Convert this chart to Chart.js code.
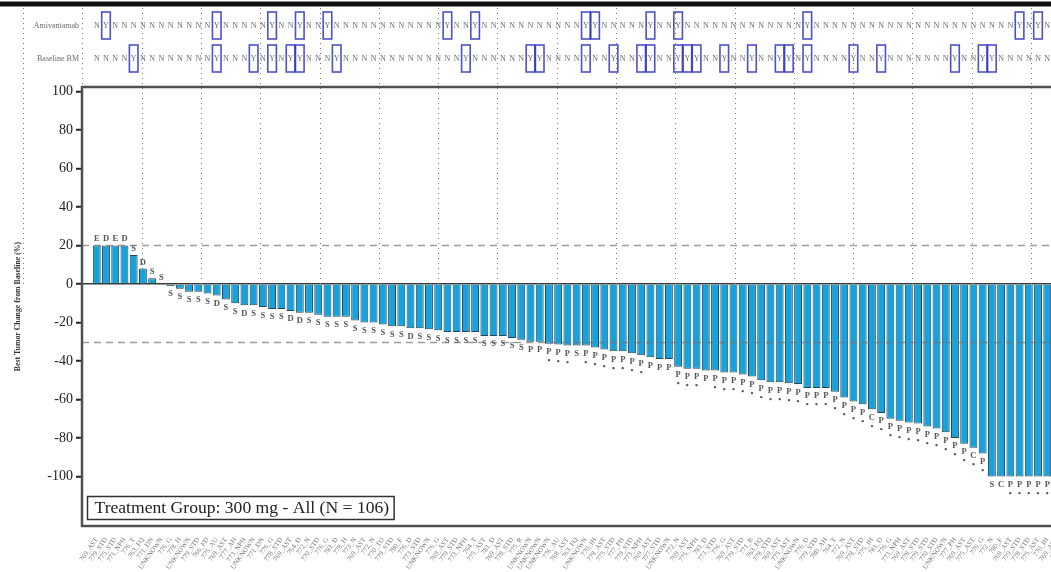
<!DOCTYPE html>
<html lang="en">
<head>
<meta charset="UTF-8">
<title>Best Tumor Change from Baseline - 300 mg</title>
<script src="https://cdn.jsdelivr.net/npm/chart.js"></script>
<style>
  body { margin: 0; overflow: hidden; background: #fff; }
  #wrap { position: relative; width: 1120px; height: 572px; }
</style>
</head>
<body>

<div id="wrap"><canvas id="waterfall"></canvas></div>

<script>
  // one entry per patient, sorted by best change
  const patientIds = [
    '769_AST', '779_STD', '775_STD', '771_NPH', '776_T', '763_FQ', '771_DN', 'UNKNOWN',
    '776_G', '778_H', 'UNKNOWN', '779_STD', '766_FD', '775_AU', '769_AST', '777_AH',
    '773_NPH', 'UNKNOWN', '771_DN', '776_G', '778_STD', '769_AST', '764_D', '772_N',
    '770_STD', '776_G', '781_D', '778_H', '773_N', '769_AST', '772_N', '770_TO',
    '779_STD', '780_F', '776_D', '773_STD', 'UNKNOWN', '776_G', '769_AST', '779_STD',
    '773_NPH', '764_T', '775_AST', '781_D', '769_AST', '778_STD', '775_R', 'UNKNOWN',
    'UNKNOWN', 'UNKNOWN', '776_AU', '768_AST', '763_FQ', 'UNKNOWN', '770_IH', '778_AST',
    '775_STD', '777_PH', '779_STD', '773_NPH', '769_AST', '777_STD', 'UNKNOWN', '772_N',
    '769_AST', '775_NPH', '781_D', '773_STD', '776_G', '769_AST', '779_STD', '771_R',
    '763_FQ', '778_STD', '769_AST', '775_AST', 'UNKNOWN', '776_D', '779_STD', '780_AH',
    '764_T', '772_N', '769_AST', '778_STD', '775_IH', '781_D', '776_G', '773_NPH',
    '769_AST', '778_STD', '779_STD', '770_STD', 'UNKNOWN', '777_PH', '769_AST', '775_AST',
    '776_G', '772_N', '780_F', '769_AST', '779_STD', '778_STD', '775_AST', '770_IH',
    '769_AST', '771_DN'
  ];

  const bestChange = [
    20, 20, 20, 20, 15, 8, 3, 0,
    -1, -2.5, -4, -4, -5, -6, -8, -10,
    -11, -11, -12, -13, -13, -14, -15, -15,
    -16, -17, -17, -17, -19, -20, -20, -21,
    -22, -22, -23, -23, -23.5, -24, -25, -25,
    -25, -25, -27, -27, -27, -28, -29, -30,
    -30, -31, -31.5, -32, -32, -32, -33, -34,
    -35, -35, -36, -37, -38, -39, -39, -43,
    -44, -44, -45, -45, -46, -46, -47, -48,
    -50, -51, -51, -51.5, -52, -54, -54, -54,
    -56, -59, -61, -62.5, -65, -67, -70, -71,
    -72, -72.5, -74, -75, -77, -80, -83, -85,
    -88, -100, -100, -100, -100, -100, -100, -100,
    -100, -100
  ];

  const bestResponse = [
    'E', 'D', 'E', 'D', 'S', 'D', 'S', 'S',
    'S', 'S', 'S', 'S', 'S', 'D', 'S', 'S',
    'D', 'S', 'S', 'S', 'S', 'D', 'D', 'S',
    'S', 'S', 'S', 'S', 'S', 'S', 'S', 'S',
    'S', 'S', 'D', 'S', 'S', 'S', 'S', 'S',
    'S', 'S', 'S', 'S', 'S', 'S', 'S', 'P',
    'P', 'P', 'P', 'P', 'S', 'P', 'P', 'P',
    'P', 'P', 'P', 'P', 'P', 'P', 'P', 'P',
    'P', 'P', 'P', 'P', 'P', 'P', 'P', 'P',
    'P', 'P', 'P', 'P', 'P', 'P', 'P', 'P',
    'P', 'P', 'P', 'P', 'C', 'P', 'P', 'P',
    'P', 'P', 'P', 'P', 'P', 'P', 'P', 'C',
    'P', 'S', 'C', 'P', 'P', 'P', 'P', 'P',
    'P', 'P'
  ];

  // patients whose response was confirmed (marked under the letter)
  const confirmed = [
    49, 50, 51, 53, 54, 55, 56, 57, 58, 59, 63, 64, 65,
    67, 68, 69, 70, 71, 72, 73, 74, 75, 76, 77, 78, 79, 80, 81,
    82, 83, 84, 85, 86, 87, 88, 89, 90, 91, 92, 93, 94, 95, 96,
    99, 100, 101, 102, 103, 104, 105
  ];

  // patients flagged "Y" in the two header rows
  const amivantamabY = [1, 13, 19, 22, 25, 38, 41, 53, 54, 60, 63, 77, 100, 102];
  const baselineBmY = [4, 13, 17, 19, 21, 22, 26, 40, 47, 48, 53, 56, 59, 60, 63, 64, 65,
    68, 71, 74, 75, 77, 82, 85, 93, 96, 97];

  const yTicks = [100, 80, 60, 40, 20, 0, -20, -40, -60, -80, -100];
  const refLines = [20, -30];
  const groupLabel = 'Treatment Group: 300 mg - All (N = 106)';

  const SERIF = "'Liberation Serif', 'DejaVu Serif', serif";

  const annotations = {
    id: 'annotations',
    beforeDatasetsDraw(chart) {
      // dotted page guides behind the bars
      const { ctx } = chart;
      const zeroY = chart.scales.y.getPixelForValue(0);
      ctx.save();
      ctx.strokeStyle = '#7a7a7a';
      ctx.lineWidth = 1;
      ctx.setLineDash([1, 4]);
      for (let gx = 23; gx < chart.width; gx += 59.3) {
        ctx.beginPath();
        ctx.moveTo(Math.round(gx) + 0.5, 8);
        ctx.lineTo(Math.round(gx) + 0.5, zeroY);
        ctx.stroke();
      }
      ctx.restore();
    },
    afterDatasetsDraw(chart) {
      const { ctx, chartArea: a, scales: { x, y } } = chart;
      ctx.save();

      // reference lines at +20% and -30%
      ctx.strokeStyle = 'rgba(115,115,115,0.7)';
      ctx.lineWidth = 1.5;
      ctx.setLineDash([7, 5]);
      refLines.forEach(v => {
        const py = Math.round(y.getPixelForValue(v)) + 0.5;
        ctx.beginPath();
        ctx.moveTo(a.left, py);
        ctx.lineTo(a.right, py);
        ctx.stroke();
      });
      ctx.setLineDash([]);

      // response letters at the end of each bar
      ctx.fillStyle = '#555';
      ctx.textAlign = 'center';
      ctx.font = 'bold 8.5px ' + SERIF;
      bestChange.forEach((v, i) => {
        const px = x.getPixelForValue(i);
        const py = y.getPixelForValue(v);
        if (v >= 0) {
          ctx.textBaseline = 'bottom';
          ctx.fillText(bestResponse[i], px, py - 2);
        } else {
          ctx.textBaseline = 'top';
          ctx.fillText(bestResponse[i], px, py + 4);
          if (confirmed.includes(i)) ctx.fillText('•', px, py + 13);
        }
      });

      // plot frame
      ctx.strokeStyle = '#505050';
      ctx.lineWidth = 2.5;
      ctx.strokeRect(a.left, a.top, a.right - a.left, a.bottom - a.top);

      // treatment group box
      ctx.font = '17.6px ' + SERIF;
      ctx.textAlign = 'left';
      ctx.textBaseline = 'middle';
      const tw = ctx.measureText(groupLabel).width;
      const bx = a.left + 5.5, by = a.bottom - 29.5;
      ctx.fillStyle = '#fff';
      ctx.fillRect(bx, by, tw + 12, 23);
      ctx.strokeStyle = '#333';
      ctx.lineWidth = 1.5;
      ctx.strokeRect(bx, by, tw + 12, 23);
      ctx.fillStyle = '#222';
      ctx.fillText(groupLabel, bx + 7, by + 12);
      ctx.restore();
    },
    afterDraw(chart) {
      const { ctx, scales: { x } } = chart;
      ctx.save();

      // heavy rule along the top edge
      ctx.fillStyle = '#111';
      ctx.fillRect(0, 1.5, chart.width, 5);

      const rows = [
        { title: 'Amivantamab', flags: amivantamabY, cy: 25.5 },
        { title: 'Baseline BM', flags: baselineBmY, cy: 58.5 }
      ];
      rows.forEach(row => {
        ctx.font = '8px ' + SERIF;
        ctx.fillStyle = '#6a6a6a';
        ctx.textAlign = 'right';
        ctx.textBaseline = 'middle';
        ctx.fillText(row.title, 79, row.cy);

        ctx.textAlign = 'center';
        bestChange.forEach((_, i) => {
          const px = x.getPixelForValue(i);
          const yes = row.flags.includes(i);
          ctx.fillStyle = '#6a6a6a';
          ctx.fillText(yes ? 'Y' : 'N', px, row.cy);
          if (yes) {
            ctx.strokeStyle = 'rgba(45,50,190,0.85)';
            ctx.lineWidth = 1.6;
            ctx.strokeRect(px - 4.3, row.cy - 13.5, 8.6, 27);
          }
        });
      });
      ctx.restore();
    }
  };

  const ctx = document.getElementById('waterfall').getContext('2d');
  const chart = new Chart(ctx, {
    type: 'bar',
    data: {
      datasets: [{
        label: 'Best Tumor Change from Baseline (%)',
        data: bestChange.map((v, i) => ({ x: i, y: v })),
        backgroundColor: '#17a2db',
        borderColor: '#24465a',
        borderWidth: 1,
        barPercentage: 0.9,
        categoryPercentage: 0.95
      }]
    },
    options: {
      responsive: true,
      maintainAspectRatio: false,
      animation: false,
      layout: { padding: { top: 87, right: 10, left: 0, bottom: 0 } },
      plugins: {
        legend: { display: false },
        tooltip: { enabled: false }
      },
      scales: {
        x: {
          type: 'linear',
          offset: false,
          min: -1.6,
          max: 109.8,
          afterBuildTicks: s => { s.ticks = patientIds.map((_, i) => ({ value: i })); },
          afterFit: s => { s.height = 46; },
          grid: { display: false },
          border: { display: false },
          ticks: {
            autoSkip: false,
            maxRotation: 55,
            minRotation: 55,
            padding: 2,
            color: '#777',
            font: { family: SERIF, size: 7 },
            callback: v => patientIds[v]
          }
        },
        y: {
          min: -125.7,
          max: 102.3,
          afterBuildTicks: s => { s.ticks = yTicks.map(v => ({ value: v })); },
          afterFit: s => { s.width = 82; },
          border: { display: false },
          grid: {
            color: c => (c.tick && c.tick.value === 0) ? '#3a3a3a' : 'rgba(0,0,0,0)',
            lineWidth: 1.5,
            tickColor: '#222',
            tickLength: 6,
            tickWidth: 2
          },
          ticks: {
            padding: 3,
            color: '#222',
            font: { family: SERIF, size: 14 }
          },
          title: {
            display: true,
            text: 'Best Tumor Change from Baseline (%)',
            color: '#333',
            font: { family: SERIF, size: 7.8, weight: 'bold' },
            padding: { top: 13, bottom: 0 }
          }
        }
      }
    },
    plugins: [annotations]
  });
</script>

</body>
</html>
